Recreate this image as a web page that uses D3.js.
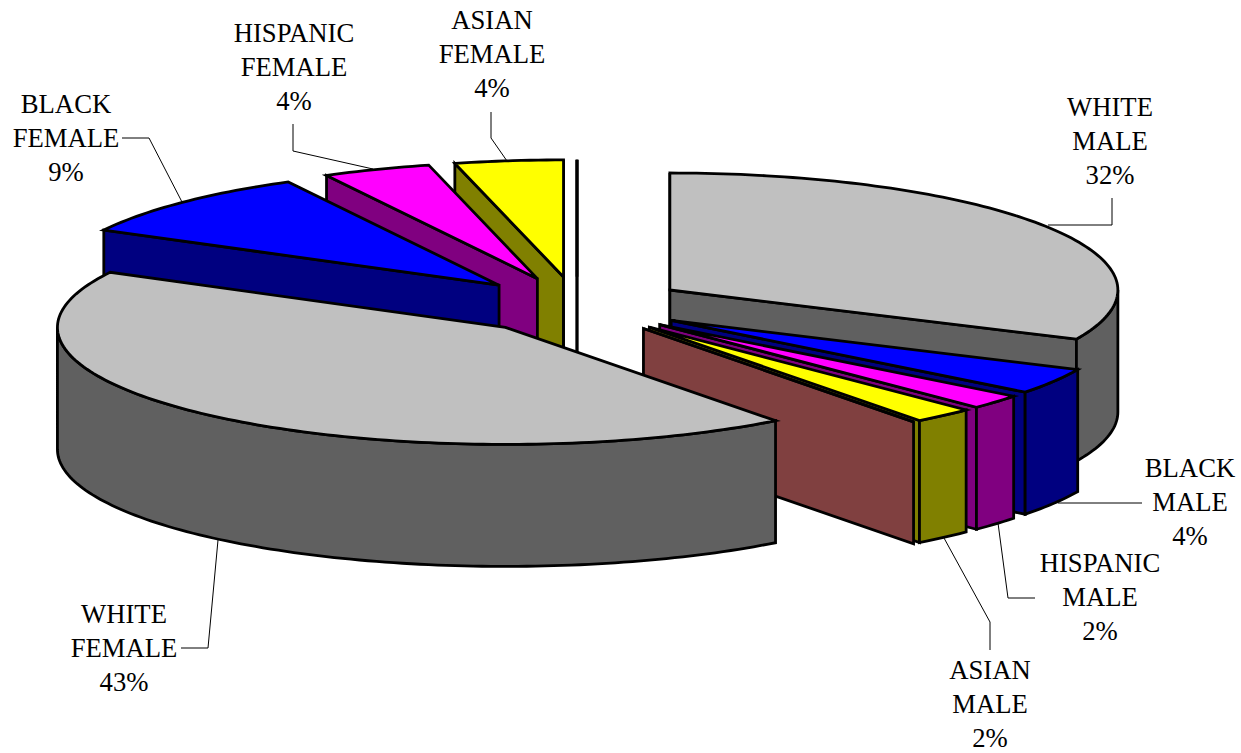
<!DOCTYPE html>
<html>
<head>
<meta charset="utf-8">
<script src="https://cdn.jsdelivr.net/npm/d3@7/dist/d3.min.js"></script>
<style>
  html, body { margin: 0; padding: 0; background: #fff; }
  svg { display: block; }
  text { font-family: "Liberation Serif", "Times New Roman", serif; font-size: 26.7px; fill: #000; }
</style>
</head>
<body>
<svg id="chart" width="1241" height="753"></svg>
<script>
// Workforce composition by race and sex; the two empty categories still occupy a position in the pie.
const categories = ["WHITE MALE", "BLACK MALE", "HISPANIC MALE", "ASIAN MALE", "", "WHITE FEMALE", "BLACK FEMALE", "HISPANIC FEMALE", "ASIAN FEMALE", ""];
const shares = [31.9, 3.6, 2.0, 2.2, 0, 43.1, 9.4, 3.9, 3.9, 0];
const topColors = ["#c0c0c0", "#0000ff", "#ff00ff", "#ffff00", "#ff8080", "#c0c0c0", "#0000ff", "#ff00ff", "#ffff00", "#000000"];
const wallColors = ["#606060", "#000080", "#800080", "#808000", "#804040", "#606060", "#000080", "#800080", "#808000", "#000000"];

// Painter's order: back slices first, the large front slice last.
const drawOrder = [0, 1, 2, 3, 4, 8, 7, 6, 9, 5];

// Pie geometry
const centerX = 577, centerY = 305.5;
const radiusX = 448, radiusY = 117, thickness = 122, explosion = 0.246;

// Label placement: centre x, middle line y, and the leader polyline.
const labelLayout = [
  { i: 0, x: 1110, y: 142, leader: [[1048, 225], [1112, 225], [1112, 198]] },
  { i: 1, x: 1190, y: 503, leader: [[1058, 503], [1142, 503]] },
  { i: 2, x: 1100, y: 598, leader: [[998, 523], [1008, 598], [1035, 598]] },
  { i: 3, x: 990, y: 705, leader: [[944, 538], [990, 622], [990, 650]] },
  { i: 5, x: 124, y: 649, leader: [[218, 540], [208, 648], [181, 648]] },
  { i: 6, x: 66, y: 139, leader: [[182, 202], [149, 138], [122, 138]] },
  { i: 7, x: 294, y: 68, leader: [[373, 169], [293, 151], [293, 124]] },
  { i: 8, x: 492, y: 55, leader: [[507, 161], [491, 138], [491, 112]] }
];

const svg = d3.select("#chart");
const pct = d3.format(".0%");
const total = d3.sum(shares);

const arcs = d3.pie().sort(null).value(d => d)(shares);

// Unit-circle coordinates map onto the flattened ellipse of the tilted pie.
const sx = d3.scaleLinear().domain([-1, 1]).range([centerX - radiusX, centerX + radiusX]);
const sy = d3.scaleLinear().domain([-1, 1]).range([centerY - radiusY, centerY + radiusY]);
const line = d3.line();

function sweep(a0, a1) {
  const n = Math.max(1, Math.ceil((a1 - a0) / 0.02));
  return d3.range(n + 1).map(k => a0 + (a1 - a0) * k / n);
}
// A radial wall is visible when its outward normal points toward the viewer.
const faceFront = a => Math.cos(a) <= 1e-9;

function polygon(pts, fill) {
  svg.append("path")
    .attr("d", line(pts) + "Z")
    .attr("fill", fill)
    .attr("stroke", "#000")
    .attr("stroke-width", 2.8)
    .attr("stroke-linejoin", "miter");
}

drawOrder.forEach(i => {
  const { startAngle: a0, endAngle: a1 } = arcs[i];
  const mid = (a0 + a1) / 2;
  const u0 = explosion * Math.sin(mid), v0 = -explosion * Math.cos(mid);
  const apex = [sx(u0), sy(v0)];
  const down = [sx(u0), sy(v0) + thickness];
  const rim = (a, drop = 0) => [sx(u0 + Math.sin(a)), sy(v0 - Math.cos(a)) + drop];

  if (faceFront(a0 - Math.PI / 2)) {
    polygon([apex, rim(a0), rim(a0, thickness), down], wallColors[i]);
  }
  if (faceFront(a1 + Math.PI / 2)) {
    polygon([apex, rim(a1), rim(a1, thickness), down], wallColors[i]);
  }

  // Outer wall: only the stretch of rim on the near half of the ellipse shows.
  const r0 = Math.max(a0, Math.PI / 2), r1 = Math.min(a1, 3 * Math.PI / 2);
  if (r1 > r0) {
    const angles = sweep(r0, r1);
    polygon([
      ...angles.map(a => rim(a)),
      ...angles.slice().reverse().map(a => rim(a, thickness))
    ], wallColors[i]);
  }

  polygon([apex, ...sweep(a0, a1).map(a => rim(a))], topColors[i]);
});

// Leader lines and three-line labels
const lineGap = 34;
labelLayout.forEach(l => {
  svg.append("path")
    .attr("d", line(l.leader))
    .attr("fill", "none")
    .attr("stroke", "#000")
    .attr("stroke-width", 1);

  const words = categories[l.i].split(" ");
  const rows = [...words, pct(shares[l.i] / total)];
  svg.append("text")
    .attr("text-anchor", "middle")
    .selectAll("tspan")
    .data(rows)
    .join("tspan")
    .attr("x", l.x)
    .attr("y", (d, k) => l.y + 8 + (k - 1) * lineGap)
    .text(d => d);
});
</script>
</body>
</html>
